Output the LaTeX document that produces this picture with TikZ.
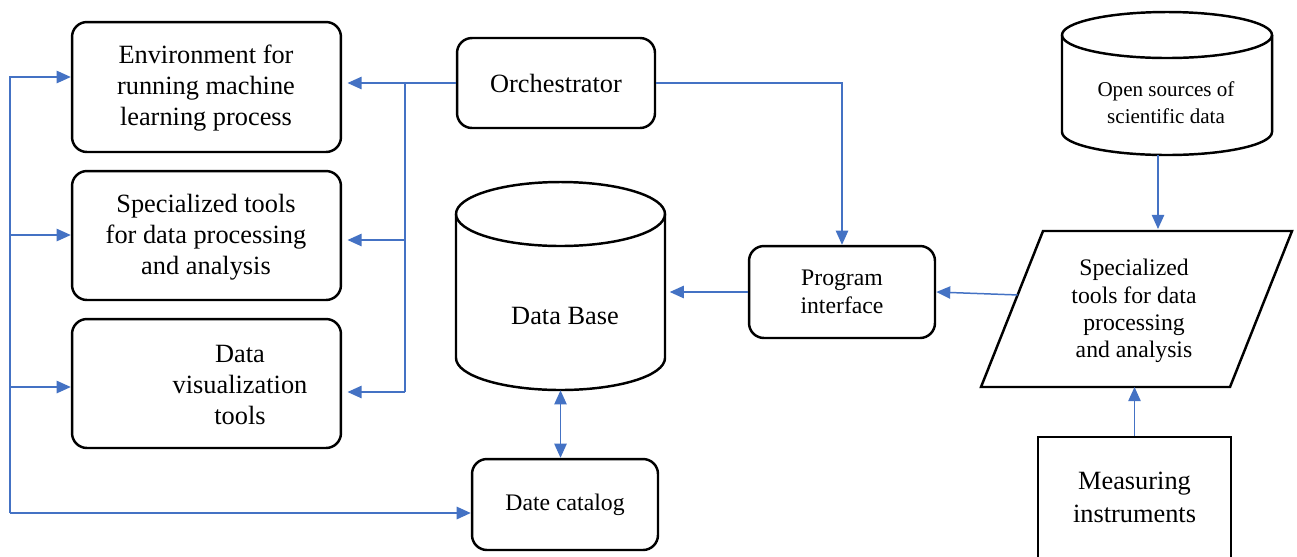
\documentclass[tikz,border=0pt]{standalone}
\usepackage{fontspec}
\setmainfont{Liberation Serif}
\usetikzlibrary{arrows.meta,calc}
\definecolor{lineblue}{HTML}{4472C4}
\tikzset{
  boxstyle/.style={draw, line width=1.4pt, rounded corners=8.5pt, inner sep=0pt},
  plainbox/.style={draw, line width=1.4pt, inner sep=0pt},
  shapeline/.style={line width=1.4pt, line join=miter},
  conn/.style={draw=lineblue, line width=0.85pt},
  arr/.style={conn, -{Triangle[length=8pt,width=7pt]}},
  dblarr/.style={conn, {Triangle[length=8pt,width=7pt]}-{Triangle[length=8pt,width=7pt]}},
  bigtext/.style={align=center, font=\fontsize{15}{17.6}\selectfont, inner sep=0pt},
  midtext/.style={align=center, font=\fontsize{13.5}{15.8}\selectfont, inner sep=0pt},
  smalltext/.style={align=center, font=\fontsize{12}{15.3}\selectfont, inner sep=0pt}
}
\begin{document}
\begin{tikzpicture}[x=0.02cm, y=-0.02cm]
\useasboundingbox (0,0) rectangle (1297,556);
\clip (0,0) rectangle (1297,556);
\fill[white] (0,0) rectangle (1297,556);

% left boxes
\node[boxstyle, minimum width=5.38cm, minimum height=2.6cm] (env) at (206.5,87) {};
\node[bigtext] (envt) at (206,88) {Environment for\\running machine\\learning process};
\node[boxstyle, minimum width=5.38cm, minimum height=2.58cm] (spec) at (206.5,235.5) {};
\node[bigtext] (spect) at (206,237) {Specialized tools\\for data processing\\and analysis};
\node[boxstyle, minimum width=5.38cm, minimum height=2.58cm] (viz) at (206.5,383.5) {};
\node[bigtext] (vizt) at (240,385) {Data\\visualization\\tools};

% orchestrator
\node[boxstyle, minimum width=3.96cm, minimum height=1.8cm, bigtext, draw] (orch) at (556,83) {Orchestrator};

% data base cylinder
\draw[shapeline] (456,214) -- (456,358) arc[start angle=180, end angle=0, x radius=104.5, y radius=32] -- (665,214);
\draw[shapeline] (560.5,214) ellipse [x radius=104.5, y radius=32];
\node[minimum width=4.18cm, minimum height=4.16cm, inner sep=0pt] (db) at (560.5,286) {};
\node[bigtext] (dbt) at (565,316) {Data Base};

% date catalog
\node[boxstyle, minimum width=3.72cm, minimum height=1.82cm, midtext, draw] (cat) at (565,504.5) {Date catalog};

% program interface
\node[boxstyle, minimum width=3.72cm, minimum height=1.84cm, midtext, draw] (pi) at (842,292) {Program\\interface};

% open sources cylinder
\draw[shapeline] (1062,35) -- (1062,132) arc[start angle=180, end angle=0, x radius=105, y radius=23] -- (1272,35);
\draw[shapeline] (1167,35) ellipse [x radius=105, y radius=23];
\node[minimum width=4.2cm, minimum height=2.9cm, inner sep=0pt] (open) at (1167,83.5) {};
\node[smalltext] (opent) at (1166,103) {Open sources of\\scientific data};

% parallelogram
\coordinate (pbl) at (981,387);
\coordinate (pbr) at (1230,387);
\coordinate (ptr) at (1292,231);
\coordinate (ptl) at (1043,231);
\draw[shapeline] (pbl) -- (pbr) -- (ptr) -- (ptl) -- cycle;
\node[midtext, font=\fontsize{13.5}{15.5}\selectfont] (para) at (1134,311) {Specialized\\tools for data\\processing\\and analysis};

% measuring instruments
\node[plainbox, minimum width=3.86cm, minimum height=3.06cm] (meas) at (1134.5,513.5) {};
\node[align=center, font=\fontsize{15}{18.7}\selectfont, inner sep=0pt] (meast) at (1134.5,497) {Measuring\\instruments};

% orchestrator bus
\coordinate (ob1) at (405,83);
\coordinate (ob2) at (405,240);
\coordinate (ob3) at (405,392);
\draw[conn] (orch.west) -- (ob1) -- (ob3);
\draw[arr, shorten >=3pt] (ob1) -- (env.east|-ob1);
\draw[arr, shorten >=3pt] (ob2) -- (spec.east|-ob2);
\draw[arr, shorten >=3pt] (ob3) -- (viz.east|-ob3);

% left bus
\coordinate (lb1) at (10,77);
\coordinate (lb2) at (10,235);
\coordinate (lb3) at (10,387);
\coordinate (lb4) at (10,513);
\draw[arr] (lb4) -- (lb1) -- (env.west|-lb1);
\draw[arr] (lb2) -- (spec.west|-lb2);
\draw[arr] (lb3) -- (viz.west|-lb3);
\draw[arr, line width=1.1pt] (lb4) -- (cat.west|-lb4);

% orchestrator to program interface
\draw[arr] (orch.east) -| (pi.north);
% program interface to data base
\draw[arr, shorten >=2.5pt] (pi.west) -- (db.east|-pi.west);
% data base <-> catalog
\draw[dblarr] (db.south) -- (db.south|-cat.north);
% parallelogram to program interface
\coordinate (pl) at ($(pbl)!0.59!(ptl)$);
\draw[arr] (pl) -- (pi.east);
% open sources to parallelogram
\coordinate (os) at (1158,155);
\coordinate (pt) at (1158,229);
\draw[arr] (os) -- (pt);
% measuring to parallelogram
\draw[arr] (meas.north) -- (meas.north|-pbl);
\end{tikzpicture}
\end{document}
